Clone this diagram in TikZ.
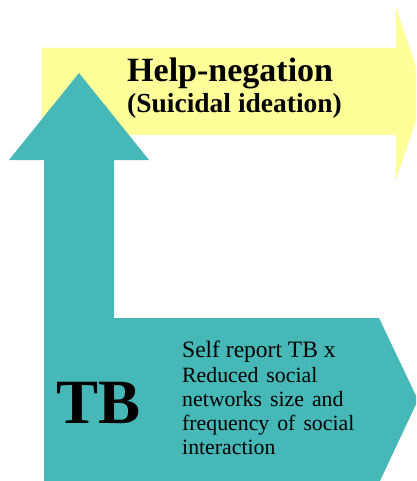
\documentclass[tikz,border=0pt]{standalone}
\usepackage{fontspec}
\setmainfont{Liberation Serif}
\definecolor{tealfill}{RGB}{71,184,184}
\definecolor{yellowfill}{RGB}{255,255,153}
\newcommand\mybodyfont{\fontsize{21.8}{24}\selectfont\spaceskip=8pt\relax}
\begin{document}
\begin{tikzpicture}[x=1pt,y=-1pt,
  yarrow/.style={fill=yellowfill,draw=none},
  tarrow/.style={fill=tealfill,draw=none},
  lbl/.style={anchor=base west,inner sep=0pt,text=black},
  bodytxt/.style={lbl,font=\mybodyfont}]
\useasboundingbox (0,0) rectangle (416,481);
\clip (0,0) rectangle (416,481);
% yellow arrow to the right
\path[yarrow] (42,48) -- (396,48) -- (396,7) -- (425,93.5) -- (396,180)
  -- (396,135) -- (42,135) -- cycle;
% teal L-shaped arrow
\path[tarrow] (79,73) -- (149,160) -- (114,160) -- (114,318) -- (379,318)
  -- (418,400) -- (379,483) -- (44,483) -- (44,160) -- (9,160) -- cycle;
% texts
\node[lbl,font=\fontsize{34}{36}\bfseries\selectfont] (help) at (127,81.5) {Help-negation};
\node[lbl,font=\fontsize{27.5}{30}\bfseries\selectfont] (suic) at (127,112.5) {(Suicidal ideation)};
\node[lbl,font=\fontsize{63}{66}\bfseries\selectfont] (tb) at (56,423) {TB};
\node[lbl,font=\fontsize{23.5}{26}\selectfont] (l1) at (182,357) {Self report TB x};
\node[bodytxt] (l2) at (182,382) {Reduced social};
\node[bodytxt] (l3) at (182,406) {networks size and};
\node[bodytxt] (l4) at (182,430) {frequency of social};
\node[bodytxt] (l5) at (182,454) {interaction};
\end{tikzpicture}
\end{document}
